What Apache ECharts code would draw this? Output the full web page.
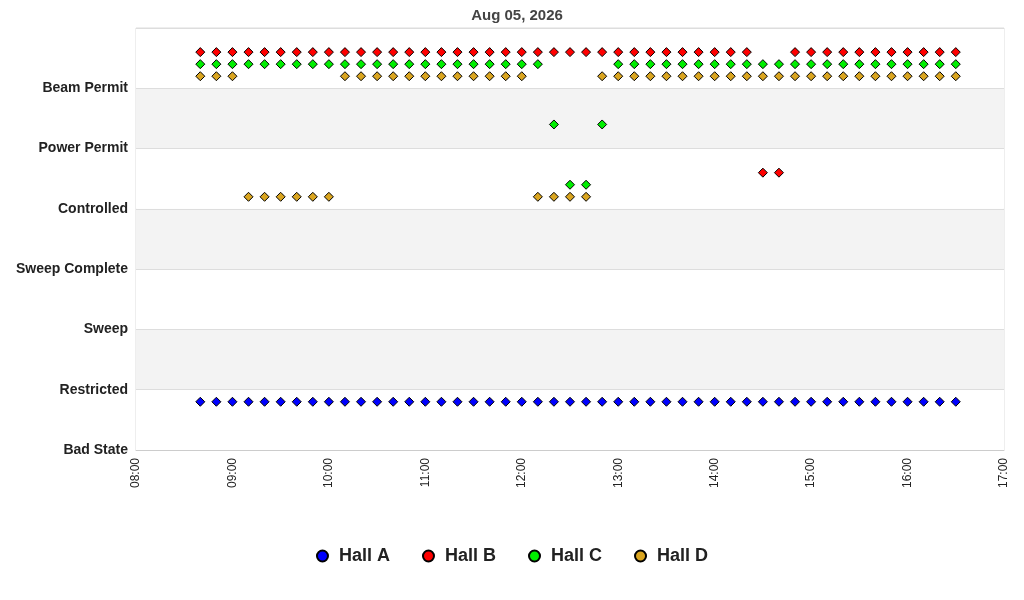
<!DOCTYPE html>
<html><head><meta charset="utf-8">
<script src="https://cdn.jsdelivr.net/npm/echarts@6/dist/echarts.min.js"></script>
<style>html,body{margin:0;padding:0;background:#fff}#c{width:1024px;height:600px}</style>
</head><body><div id="c"></div>
<script>
const levelLabels = ["Bad State","Restricted","Sweep","Sweep Complete","Controlled","Power Permit","Beam Permit"];
const times = ["08:40","08:50","09:00","09:10","09:20","09:30","09:40","09:50","10:00","10:10","10:20","10:30","10:40","10:50","11:00","11:10","11:20","11:30","11:40","11:50","12:00","12:10","12:20","12:30","12:40","12:50","13:00","13:10","13:20","13:30","13:40","13:50","14:00","14:10","14:20","14:30","14:40","14:50","15:00","15:10","15:20","15:30","15:40","15:50","16:00","16:10","16:20","16:30"];
const hallA = [0.8,0.8,0.8,0.8,0.8,0.8,0.8,0.8,0.8,0.8,0.8,0.8,0.8,0.8,0.8,0.8,0.8,0.8,0.8,0.8,0.8,0.8,0.8,0.8,0.8,0.8,0.8,0.8,0.8,0.8,0.8,0.8,0.8,0.8,0.8,0.8,0.8,0.8,0.8,0.8,0.8,0.8,0.8,0.8,0.8,0.8,0.8,0.8];
const hallB = [6.6,6.6,6.6,6.6,6.6,6.6,6.6,6.6,6.6,6.6,6.6,6.6,6.6,6.6,6.6,6.6,6.6,6.6,6.6,6.6,6.6,6.6,6.6,6.6,6.6,6.6,6.6,6.6,6.6,6.6,6.6,6.6,6.6,6.6,6.6,4.6,4.6,6.6,6.6,6.6,6.6,6.6,6.6,6.6,6.6,6.6,6.6,6.6];
const hallC = [6.4,6.4,6.4,6.4,6.4,6.4,6.4,6.4,6.4,6.4,6.4,6.4,6.4,6.4,6.4,6.4,6.4,6.4,6.4,6.4,6.4,6.4,5.4,4.4,4.4,5.4,6.4,6.4,6.4,6.4,6.4,6.4,6.4,6.4,6.4,6.4,6.4,6.4,6.4,6.4,6.4,6.4,6.4,6.4,6.4,6.4,6.4,6.4];
const hallD = [6.2,6.2,6.2,4.2,4.2,4.2,4.2,4.2,4.2,6.2,6.2,6.2,6.2,6.2,6.2,6.2,6.2,6.2,6.2,6.2,6.2,4.2,4.2,4.2,4.2,6.2,6.2,6.2,6.2,6.2,6.2,6.2,6.2,6.2,6.2,6.2,6.2,6.2,6.2,6.2,6.2,6.2,6.2,6.2,6.2,6.2,6.2,6.2];
const seriesNames = ["Hall A","Hall B","Hall C","Hall D"];
const seriesColors = ["#0000ff","#ff0000","#00ee00","#daa520"];

const toMin = t => { const [h,m] = t.split(":").map(Number); return h*60+m; };
const pad = n => (n<10?"0":"")+n;
const all = [hallA,hallB,hallC,hallD];
const chart = echarts.init(document.getElementById('c'));
chart.setOption({
  animation:false,
  title:{text:"Aug 05, 2026",left:512,textAlign:'center',top:3,textStyle:{fontFamily:'Liberation Sans, Arial',fontSize:15,fontWeight:'bold',color:'#444'}},
  grid:{left:136,right:20,top:28,bottom:150,show:true,borderColor:'#ddd',borderWidth:1},
  xAxis:{type:'value',min:480,max:1020,interval:60,
    axisLine:{lineStyle:{color:'#ccc'}},axisTick:{show:false},splitLine:{show:false},
    axisLabel:{rotate:90,color:'#222',fontFamily:'Liberation Sans, Arial',fontSize:12,
      formatter:v=>pad(Math.floor(v/60))+":"+pad(v%60)}},
  yAxis:{type:'value',min:0,max:7,interval:1,
    axisLine:{show:false},axisTick:{show:false},
    splitLine:{lineStyle:{color:'#ddd'}},
    splitArea:{show:true,areaStyle:{color:['#ffffff','#f3f3f3']}},
    axisLabel:{color:'#222',fontWeight:'bold',fontFamily:'Liberation Sans, Arial',fontSize:14,margin:8,
      formatter:v=>levelLabels[v]||""}},
  legend:{bottom:30,left:'center',itemGap:32,itemWidth:11,itemHeight:11,
    textStyle:{fontFamily:'Liberation Sans, Arial',fontSize:18,fontWeight:'bold',color:'#222',padding:[0,0,0,6]},
    data:seriesNames.map(n=>({name:n,icon:'circle'}))},
  series:all.map((arr,i)=>({
    name:seriesNames[i],type:'scatter',symbol:'diamond',symbolSize:9,
    itemStyle:{color:seriesColors[i],borderColor:'#000',borderWidth:1,opacity:1},
    data:arr.map((v,j)=>[toMin(times[j]),v])
  }))
});
</script></body></html>
